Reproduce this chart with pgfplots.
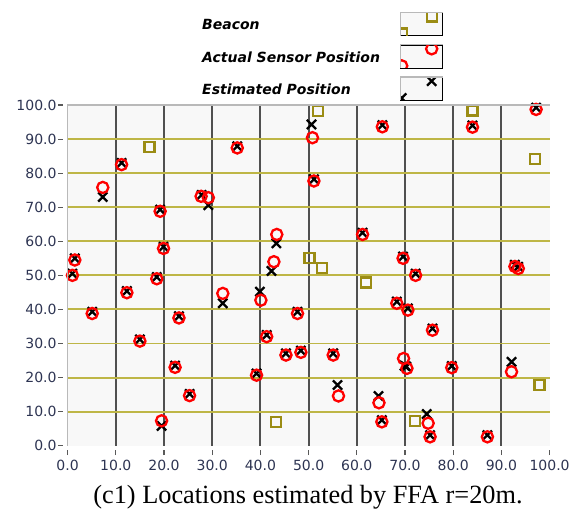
\documentclass[border=0pt]{standalone}
\usepackage{fontspec}
\setmainfont{Liberation Serif}
\newfontfamily\tickfont{DejaVu Sans}
\newfontfamily\legfont{DejaVu Sans}
\usepackage{pgfplots}
\pgfplotsset{compat=1.18}
\definecolor{hgrid}{RGB}{190,182,70}
\definecolor{beaconc}{RGB}{155,140,20}
\definecolor{vgrid}{RGB}{80,80,80}
\definecolor{bgc}{RGB}{248,248,248}
\definecolor{tickc}{RGB}{45,52,82}
\begin{document}
\begin{tikzpicture}
\useasboundingbox (-67.6pt,-76.3pt) rectangle (503.4pt,445.7pt);
\begin{axis}[
  at={(0pt,0pt)}, anchor=south west,
  scale only axis, width=482pt, height=340.7pt,
  xmin=0, xmax=100, ymin=0, ymax=100,
  clip=false,
  axis line style={draw=none},
  axis background/.style={fill=bgc},
  xtick={10,20,...,90}, ytick={10,20,...,90},
  extra x ticks={0,100}, extra y ticks={0,100},
  extra x tick style={grid=none}, extra y tick style={grid=none},
  xmajorgrids, ymajorgrids,
  x grid style={vgrid, line width=2pt},
  y grid style={hgrid, line width=1.9pt},
  tick align=outside, xtick pos=bottom, ytick pos=left,
  major tick length=5pt,
  tick style={black!65, line width=1.1pt},
  xtick style={yshift=-4.5pt},
  ytick style={xshift=-4.5pt},
  /pgf/number format/assume math mode=true,
  /pgf/number format/.cd, fixed, fixed zerofill, precision=1, /pgfplots/.cd,
  tick label style={font=\tickfont\fontsize{14}{16}\selectfont, text=tickc},
  yticklabel style={xshift=-2.5pt},
  xticklabel style={yshift=-6pt},
  legend plot pos=right,
  legend style={at={(axis description cs:0.2747,1.2739)}, anchor=north west,
    draw=none, fill=none, inner sep=0pt,
    font=\legfont\bfseries\itshape\fontsize{14}{16}\selectfont,
    row sep=8pt, /tikz/column sep=18pt, cells={anchor=west}},
  legend image code/.code={
    \begin{scope}
      \fill[bgc] (0pt,-10pt) rectangle (42pt,13pt);
      \clip (0pt,-10pt) rectangle (42pt,13pt);
      \draw plot[only marks] coordinates {(1pt,-8pt) (31pt,9pt)};
    \end{scope}
    \draw[gray!55, line width=1.3pt] (0pt,-10pt) -- (0pt,13pt) -- (42pt,13pt);
  },
]
\addplot[only marks, mark=square, mark size=5pt, mark options={draw=beaconc, line width=2.2pt}]
coordinates {(17.0,87.7) (52.0,98.2) (50.2,55.0) (52.7,52.2) (43.2,6.9) (61.9,47.9) (84.0,98.4) (97.0,84.1) (72.1,7.3) (97.9,17.8)};
\addlegendentry{Beacon}
\addplot[only marks, forget plot, mark=x, mark size=6.5pt, mark options={draw=black, line width=2.3pt}]
coordinates {(1.5,55.0) (1.0,50.5) (5.1,39.3) (7.3,73.0) (11.2,83.0) (12.3,45.4) (15.0,31.2) (18.5,49.5) (19.2,69.3) (19.9,58.4)
(19.5,5.8) (22.3,23.5) (23.1,38.0) (25.3,15.2) (27.8,73.6) (29.2,70.6) (32.2,41.8) (35.2,87.9) (39.2,21.2) (39.9,45.2)
(41.3,32.5) (43.3,59.4) (42.3,51.3) (45.3,27.1) (47.7,39.3) (48.4,27.9) (50.6,94.3) (51.1,78.2) (55.1,27.1) (56.0,17.8)
(61.2,62.5) (64.5,14.6) (65.2,7.5) (65.3,94.1) (68.3,42.3) (69.6,55.5) (69.9,23.5) (70.3,23.2) (70.6,40.3) (72.2,50.5)
(75.7,34.4) (74.5,9.3) (75.2,3.1) (79.7,23.4) (84.0,94.0) (87.1,3.1) (92.1,24.6) (92.8,53.1) (93.5,52.5) (97.2,99.2)};
\addplot[only marks, mark=o, mark size=5.6pt, mark options={draw=red, line width=2.3pt}]
coordinates {(1.5,54.5) (1.0,50.0) (5.1,38.8) (7.3,75.8) (11.2,82.5) (12.3,44.9) (15.0,30.7) (18.5,49.0) (19.2,68.8) (19.9,57.9)
(19.5,7.3) (22.3,23.0) (23.1,37.5) (25.3,14.7) (27.7,73.2) (29.2,72.8) (32.2,44.7) (35.2,87.4) (39.2,20.7) (40.1,42.7)
(41.3,32.0) (43.4,62.0) (42.8,54.0) (45.3,26.6) (47.7,38.8) (48.4,27.4) (50.8,90.4) (51.1,77.7) (55.1,26.6) (56.2,14.6)
(61.2,62.0) (64.6,12.6) (65.2,7.0) (65.3,93.6) (68.3,41.8) (69.6,55.0) (69.7,25.6) (70.4,22.7) (70.6,39.8) (72.2,50.0)
(75.7,33.9) (74.8,6.6) (75.2,2.6) (79.7,22.9) (84.0,93.5) (87.1,2.6) (92.1,21.7) (92.8,52.6) (93.5,52.0) (97.2,98.7)};
\addlegendentry{Actual Sensor Position}
\addlegendimage{only marks, mark=x, mark size=6.5pt, mark options={draw=black, line width=2.3pt}}
\addlegendentry{Estimated Position}
\end{axis}
\draw[gray!55, line width=1.5pt] (0pt,0pt) -- (0pt,340.7pt) -- (482pt,340.7pt);
\node[anchor=base, font=\fontsize{26.3}{30}\selectfont] at (240.4pt,-57.8pt) {(c1) Locations estimated by FFA r=20m.};
\end{tikzpicture}
\end{document}
